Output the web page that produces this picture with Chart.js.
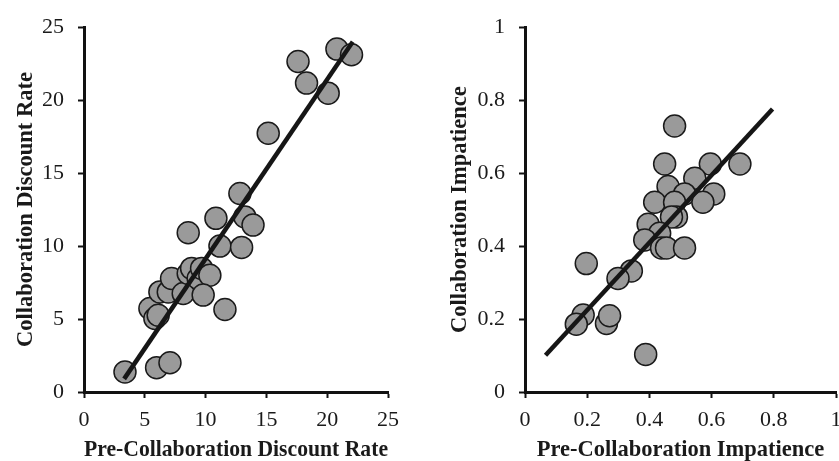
<!DOCTYPE html>
<html>
<head>
<meta charset="utf-8">
<script src="https://cdn.jsdelivr.net/npm/chart.js@4.4.1/dist/chart.umd.min.js"></script>
<style>
  html, body { margin: 0; padding: 0; background: #fff; overflow: hidden; width: 839px; height: 461px; }
  #left { position: absolute; left: 0; top: 0; }
  #right { position: absolute; left: 420px; top: 0; }
</style>
</head>
<body>
<canvas id="left" width="420" height="461"></canvas>
<canvas id="right" width="440" height="461"></canvas>
<script>
// left panel: discount rate
const discountPreX = [3.37, 5.97, 7.07, 5.42, 5.83, 6.1, 6.24, 6.93, 7.2, 8.16, 8.57, 8.57, 8.85, 9.39, 9.67,
  10.35, 9.8, 10.85, 11.18, 11.59, 12.96, 12.82, 13.23, 13.9, 15.15, 17.6, 18.3, 20.08, 20.8, 22.0];
const discountCollabY = [1.37, 1.67, 2.0, 5.72, 5.04, 5.26, 6.86, 6.86, 7.78, 6.75, 10.91, 8.12, 8.47, 7.78, 8.47,
  8.0, 6.64, 11.9, 10.0, 5.65, 9.91, 13.6, 12.0, 11.44, 17.73, 22.65, 21.17, 20.48, 23.5, 23.11];
const discountFitX = [3.3, 22.1];
const discountFitY = [0.9, 24.0];
const discountTicks = [0, 5, 10, 15, 20, 25];
const discountTickLabels = ['0', '5', '10', '15', '20', '25'];

// right panel: impatience
const impatPreX = [0.481, 0.449, 0.596, 0.691, 0.546, 0.46, 0.513, 0.607, 0.572, 0.417, 0.481, 0.487, 0.471, 0.396,
  0.433, 0.385, 0.439, 0.455, 0.513, 0.197, 0.342, 0.299, 0.187, 0.165, 0.262, 0.272, 0.388];
const impatCollabY = [0.729, 0.625, 0.625, 0.625, 0.586, 0.563, 0.543, 0.543, 0.52, 0.52, 0.52, 0.48, 0.48, 0.46,
  0.435, 0.417, 0.395, 0.395, 0.395, 0.352, 0.332, 0.311, 0.211, 0.186, 0.188, 0.209, 0.103];
const impatFitX = [0.066, 0.796];
const impatFitY = [0.101, 0.776];
const impatTicks = [0, 0.2, 0.4, 0.6, 0.8, 1];
const impatTickLabels = ['0', '0.2', '0.4', '0.6', '0.8', '1'];

Chart.defaults.font.family = '"Liberation Serif", "Times New Roman", serif';
Chart.defaults.color = '#1a1a1a';

function pairs(xs, ys) {
  return xs.map((x, i) => ({ x: x, y: ys[i] }));
}

function makeAxis(ticks, labels, isX, fitSize, titleText, titlePad) {
  return {
    type: 'linear',
    min: ticks[0],
    max: ticks[ticks.length - 1],
    afterBuildTicks: s => { s.ticks = ticks.map(v => ({ value: v })); },
    afterFit: s => { if (isX) s.height = fitSize; else s.width = fitSize; },
    border: { display: true, color: '#111', width: 3 },
    grid: { display: true, drawOnChartArea: false, drawTicks: true, tickLength: 6, tickColor: '#111', tickWidth: 2 },
    ticks: {
      font: { size: 22 },
      color: '#1a1a1a',
      padding: isX ? 9 : 14,
      maxRotation: 0,
      autoSkip: false,
      callback: (v, i) => labels[i]
    },
    title: {
      display: true,
      text: titleText,
      font: { size: 22.5, weight: 'bold' },
      color: '#1a1a1a',
      padding: titlePad
    }
  };
}

function makeChart(id, xs, ys, fx, fy, ticks, labels, xTitle, yTitle, yWidth, pad, yTitlePad) {
  new Chart(document.getElementById(id), {
    type: 'scatter',
    data: {
      datasets: [{
        type: 'line',
        data: pairs(fx, fy),
        borderColor: '#161616',
        borderWidth: 4.5,
        pointRadius: 0,
        fill: false
      }, {
        data: pairs(xs, ys),
        backgroundColor: '#9a9a9a',
        borderColor: '#1a1a1a',
        borderWidth: 1.5,
        pointRadius: 11,
        pointHoverRadius: 11
      }]
    },
    options: {
      responsive: false,
      animation: false,
      devicePixelRatio: 1,
      layout: { padding: pad },
      plugins: { legend: { display: false }, tooltip: { enabled: false } },
      scales: {
        x: makeAxis(ticks, labels, true, 69, xTitle, { top: 0, bottom: -3 }),
        y: makeAxis(ticks, labels, false, yWidth, yTitle, { top: yTitlePad, bottom: 0 })
      }
    }
  });
}

makeChart('left', discountPreX, discountCollabY, discountFitX, discountFitY, discountTicks, discountTickLabels,
  'Pre-Collaboration Discount Rate', 'Collaboration Discount Rate', 84,
  { top: 27, right: 32, bottom: 0, left: 0 }, 13);
makeChart('right', impatPreX, impatCollabY, impatFitX, impatFitY, impatTicks, impatTickLabels,
  'Pre-Collaboration Impatience', 'Collaboration Impatience', 105,
  { top: 20, right: 24, bottom: 0, left: 0 }, 27);
</script>
</body>
</html>
